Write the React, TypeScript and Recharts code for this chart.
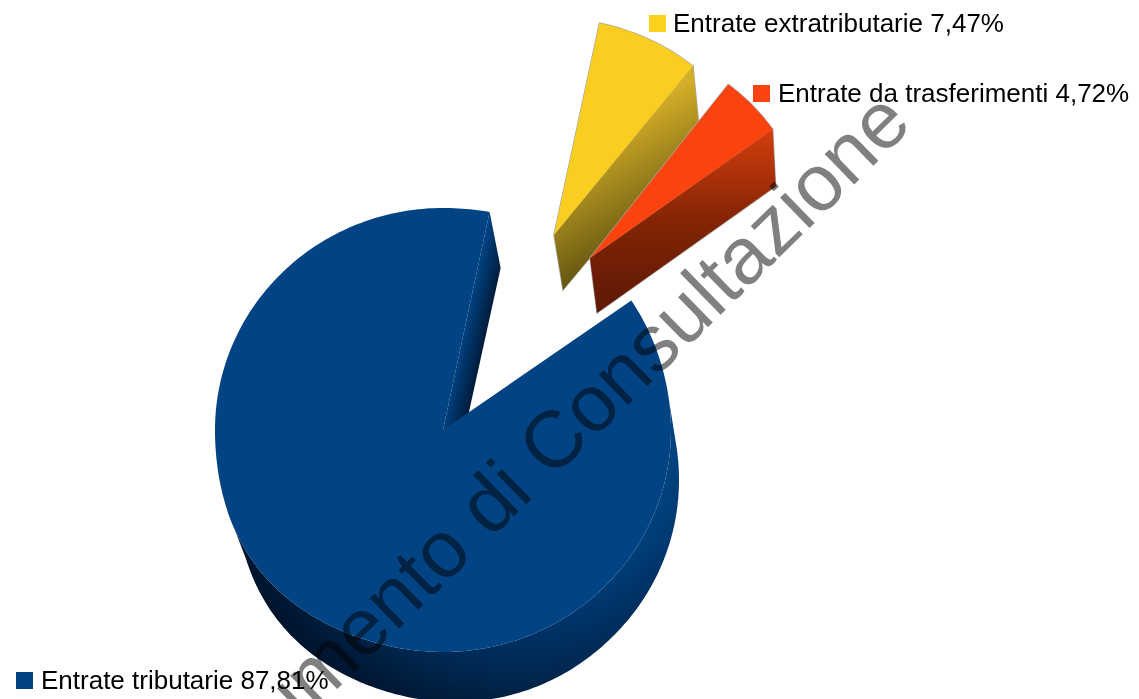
import { PieChart, Pie } from "recharts";

const names = ["Entrate extratributarie", "Entrate da trasferimenti", "Entrate tributarie"];
const shares = [7.47, 4.72, 87.81];

const data = names.map((name, i) => ({ name, value: shares[i] }));

const WIDTH = 1139;
const HEIGHT = 699;
const CX = 443;
const CY = 430;
const RADIUS = 228;
const SQUASH = 222 / 228; // the top face is a slightly flattened circle
const START = 78.2;

// how each slice is pulled out of the pie and extruded
const LOOK: Record<string, any> = {
  "Entrate extratributarie": {
    face: "#f9ce20", swatch: "#fdd21f", dx: 111, dy: -195, scale: 0.975, tilt: 0,
    apexDepth: [9, 55], rimDepth: [6, 61], wall: "url(#wallYellow)", edge: "#a8a8a8",
    labelX: 649, labelY: 32, textX: 673,
  },
  "Entrate da trasferimenti": {
    face: "#fb430f", swatch: "#fd430f", dx: 147, dy: -172, scale: 0.97, tilt: 0.04,
    apexDepth: [7, 55], rimDepth: [3, 57], wall: "url(#wallRed)", edge: "#a8a8a8",
    labelX: 753, labelY: 102, textX: 778,
  },
  "Entrate tributarie": {
    face: "#014383", swatch: "#014383", dx: 0, dy: 0, scale: 1, tilt: 0,
    apexDepth: [11, 50], rimDepth: [11, 56], wall: "url(#wallBlueCut)", edge: "none",
    labelX: 16, labelY: 689, textX: 41,
  },
};

const rad = (deg: number) => (deg * Math.PI) / 180;

// perspective: the extrusion leans less the further right it is
const blueDepth = (x: number) => [Math.max(8, 11 + (500 - x) * 0.03), 50];

// the big slice is not a perfect ellipse, it bulges a little at lower left and upper right
function bulge(a: number) {
  const n = ((a % 360) + 360) % 360;
  if (n > 180 && n < 270) return [-7 * Math.sin(rad(2 * (n - 180))) ** 2, 0];
  if (n > 0 && n < 90) return [0, -5 * Math.sin(rad(2 * n)) ** 2];
  return [0, 0];
}

function SliceShape(props: any) {
  const { cx, cy, outerRadius, startAngle, endAngle, name } = props;
  const look = LOOK[name];
  const isBig = look.dx === 0;
  const ox = cx + look.dx;
  const oy = cy + look.dy;
  const r = outerRadius * look.scale;
  const at = (a: number) => {
    const x = r * Math.cos(rad(a));
    const y = -r * SQUASH * Math.sin(rad(a)) - look.tilt * r * Math.cos(rad(a));
    const b = isBig ? bulge(a) : [0, 0];
    return [ox + x + b[0], oy + y + b[1]];
  };

  const steps = Math.max(12, Math.ceil(Math.abs(endAngle - startAngle)));
  const angles = Array.from({ length: steps + 1 }, (_, i) => startAngle + ((endAngle - startAngle) * i) / steps);
  const facePath = `M${ox},${oy} L` + angles.map(at).map((p) => p.join(",")).join(" L") + " Z";

  // side wall along the clockwise end of the slice, that is the edge facing the viewer
  const cut = at(endAngle);
  const cutPath = `M${ox},${oy} L${cut[0]},${cut[1]} L${cut[0] + look.rimDepth[0]},${cut[1] + look.rimDepth[1]} L${ox + look.apexDepth[0]},${oy + look.apexDepth[1]} Z`;

  // only the big slice shows its outer wall
  let outerWall = null;
  if (isBig) {
    const front = angles.filter((a) => {
      const d = blueDepth(at(a)[0]);
      return (Math.cos(rad(a)) * d[0]) / r - (Math.sin(rad(a)) * d[1]) / (r * SQUASH) > 0;
    });
    const top = front.map(at);
    const bottom = top.map((p) => {
      const d = blueDepth(p[0]);
      return [p[0] + d[0], p[1] + d[1]];
    }).reverse();
    outerWall = <path d={"M" + [...top, ...bottom].map((p) => p.join(",")).join(" L") + " Z"} fill="url(#wallBlue)" />;
  }

  return (
    <g>
      {outerWall}
      {/* thin grey outline first, fills on top so only the outer half shows */}
      <path d={cutPath} fill="none" stroke={look.edge} strokeWidth={1.4} />
      <path d={facePath} fill="none" stroke={look.edge} strokeWidth={1.4} />
      <path d={cutPath} fill={look.wall} />
      <path d={facePath} fill={look.face} />
    </g>
  );
}

function SliceLabel(props: any) {
  const { name, value } = props;
  const look = LOOK[name];
  return (
    <g>
      <rect x={look.labelX} y={look.labelY - 17} width={17} height={17} fill={look.swatch} />
      <text
        x={look.textX}
        y={look.labelY}
        fontFamily="'Liberation Sans', Arial, sans-serif"
        fontSize={26}
        fill="#000"
      >
        {`${name} ${value.toFixed(2).replace(".", ",")}%`}
      </text>
    </g>
  );
}

export default function App() {
  return (
    <div
      style={{
        position: "absolute",
        left: 0,
        top: 0,
        width: WIDTH,
        height: HEIGHT,
        overflow: "hidden",
        background: "#fff",
        isolation: "isolate",
      }}
    >
      <svg width={0} height={0} style={{ position: "absolute" }}>
        <defs>
          <linearGradient id="wallYellow" gradientUnits="userSpaceOnUse" x1={690} y1={80} x2={756} y2={190}>
            <stop offset="0" stopColor="#d4ae28" />
            <stop offset="1" stopColor="#574b0e" />
          </linearGradient>
          <linearGradient id="wallRed" gradientUnits="userSpaceOnUse" x1={775} y1={125} x2={775} y2={310}>
            <stop offset="0" stopColor="#d83f0e" />
            <stop offset="0.5" stopColor="#852505" />
            <stop offset="1" stopColor="#5d1905" />
          </linearGradient>
          <linearGradient id="wallBlueCut" gradientUnits="userSpaceOnUse" x1={467} y1={320} x2={489} y2={325}>
            <stop offset="0" stopColor="#01417f" />
            <stop offset="1" stopColor="#001a38" />
          </linearGradient>
          <radialGradient id="wallBlue" gradientUnits="userSpaceOnUse" cx={520} cy={430} r={310}>
            <stop offset="0.5" stopColor="#01427f" />
            <stop offset="0.65" stopColor="#003266" />
            <stop offset="0.8" stopColor="#00264d" />
            <stop offset="1" stopColor="#00122a" />
          </radialGradient>
        </defs>
      </svg>
      <PieChart width={WIDTH} height={HEIGHT} margin={{ top: 0, right: 0, bottom: 0, left: 0 }}>
        <Pie
          data={data}
          dataKey="value"
          nameKey="name"
          cx={CX}
          cy={CY}
          innerRadius={0}
          outerRadius={RADIUS}
          startAngle={START}
          endAngle={START - 360}
          paddingAngle={0}
          shape={SliceShape}
          label={SliceLabel}
          labelLine={false}
          isAnimationActive={false}
        />
      </PieChart>
      {/* watermark darkens whatever is under it */}
      <svg
        width={WIDTH}
        height={HEIGHT}
        style={{ position: "absolute", left: 0, top: 0, mixBlendMode: "multiply", pointerEvents: "none" }}
      >
        <text
          transform="translate(914,126) rotate(-44.3)"
          textAnchor="end"
          fontFamily="'Liberation Sans', Arial, sans-serif"
          fontSize={80}
          fill="#808080"
        >
          Documento di Consultazione
        </text>
      </svg>
    </div>
  );
}
